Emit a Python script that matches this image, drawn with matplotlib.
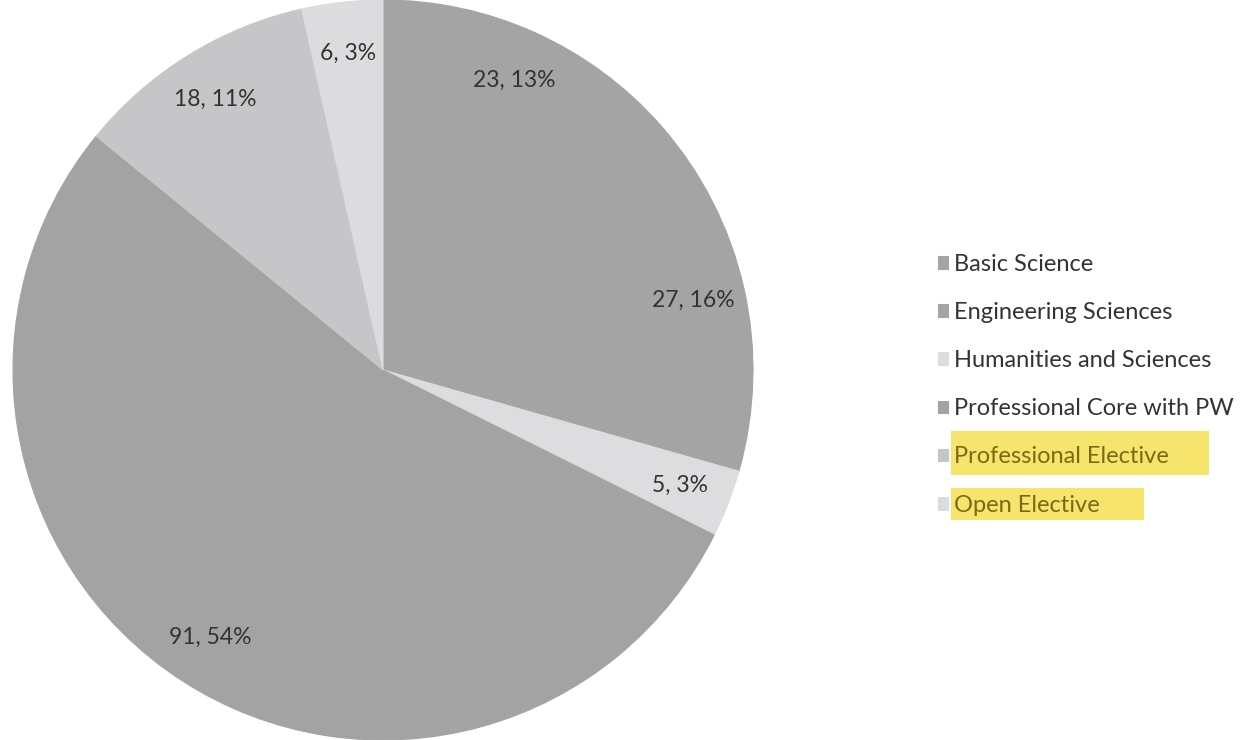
import matplotlib
matplotlib.use('Agg')
import matplotlib.pyplot as plt
from matplotlib.patches import Rectangle
import numpy as np

plt.rcParams['font.family'] = ['Lato', 'DejaVu Sans']

# data
names = ['Basic Science', 'Engineering Sciences', 'Humanities and Sciences',
         'Professional Core with PW', 'Professional Elective', 'Open Elective']
credits = [23, 27, 5, 91, 18, 6]
pct_shown = [13, 16, 3, 54, 11, 3]
colors = ['#a4a4a4', '#a4a4a4', '#dddddf', '#a3a3a3', '#c6c6c8', '#dcdcde']
highlighted = ['Professional Elective', 'Open Elective']

fig = plt.figure(figsize=(12.45, 7.4), dpi=100)
ax = fig.add_axes([13/1245, 0.0, 740/1245, 1.0])

wedges, _ = ax.pie(credits, colors=colors, startangle=90, counterclock=False,
                   radius=1.0, wedgeprops=dict(linewidth=0.8))
for w in wedges:
    w.set_edgecolor(w.get_facecolor())
ax.set_xlim(-1, 1)
ax.set_ylim(-1, 1)
ax.set_aspect('equal')

for w, v, p in zip(wedges, credits, pct_shown):
    mid = np.deg2rad((w.theta1 + w.theta2) / 2)
    ax.text(0.86*np.cos(mid), 0.86*np.sin(mid), f'{v}, {p}%', ha='center', va='center',
            fontsize=16.5, color='#333333')

leg = fig.legend(wedges, names, loc='upper left', bbox_to_anchor=(926/1245, 1 - 242/740),
                 frameon=False, fontsize=17, handlelength=0.45, handleheight=0.45,
                 handletextpad=0.25, labelspacing=1.15, borderpad=0)

# yellow marker-pen highlight behind the last two entries
fig.canvas.draw()
rend = fig.canvas.get_renderer()
pads = {'Professional Elective': (3, 40, 15, 8), 'Open Elective': (3, 44, 7, 4)}
for t in leg.get_texts():
    t.set_color('#333333')
    if t.get_text() in highlighted:
        t.set_color('#7a6a14')
        bb = t.get_window_extent(rend)
        l, r, top, bot = pads[t.get_text()]
        fig.patches.append(Rectangle((bb.x0 - l, bb.y0 - bot), bb.width + l + r, bb.height + top + bot,
                                     transform=None, facecolor='#f6e46c', edgecolor='none',
                                     zorder=1))

plt.savefig('out.png', dpi=100)
